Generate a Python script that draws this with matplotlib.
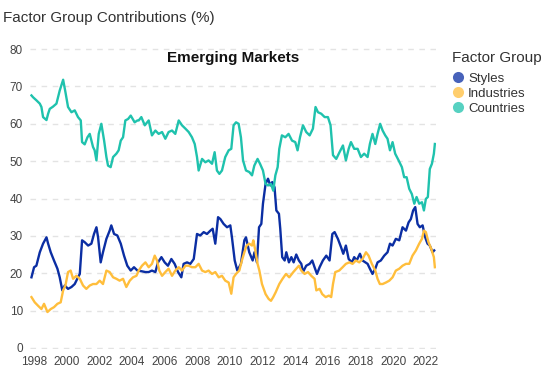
import matplotlib.pyplot as plt
from matplotlib.lines import Line2D

plt.rcParams['font.family'] = ['Liberation Sans', 'DejaVu Sans']

# Styles
styles_x = [1997.84, 1998.0, 1998.14, 1998.35, 1998.55, 1998.76, 1998.86, 1999.02, 1999.22, 1999.43,
            1999.57, 1999.73, 1999.88, 2000.08, 2000.29, 2000.49, 2000.69, 2000.8, 2000.94, 2001.1,
            2001.31, 2001.51, 2001.67, 2001.82, 2001.92, 2002.08, 2002.22, 2002.43, 2002.63, 2002.73,
            2002.9, 2003.1, 2003.31, 2003.51, 2003.71, 2003.92, 2004.12, 2004.33, 2004.61, 2004.82,
            2005.02, 2005.22, 2005.43, 2005.59, 2005.8, 2006.0, 2006.2, 2006.41, 2006.61, 2006.82,
            2007.02, 2007.16, 2007.37, 2007.57, 2007.78, 2007.98, 2008.18, 2008.39, 2008.59, 2008.8,
            2008.94, 2009.1, 2009.27, 2009.41, 2009.61, 2009.82, 2010.02, 2010.12, 2010.29, 2010.45,
            2010.67, 2010.88, 2010.98, 2011.18, 2011.39, 2011.5, 2011.65, 2011.78, 2011.92, 2012.02,
            2012.18, 2012.33, 2012.47, 2012.59, 2012.73, 2012.84, 2013.0, 2013.08, 2013.2, 2013.35,
            2013.45, 2013.61, 2013.76, 2013.9, 2014.06, 2014.22, 2014.37, 2014.47, 2014.67, 2014.88,
            2015.04, 2015.18, 2015.33, 2015.49, 2015.69, 2015.9, 2016.1, 2016.27, 2016.41, 2016.61,
            2016.8, 2016.94, 2017.1, 2017.27, 2017.47, 2017.61, 2017.76, 2017.96, 2018.12, 2018.29,
            2018.43, 2018.57, 2018.73, 2018.9, 2019.04, 2019.24, 2019.45, 2019.65, 2019.8, 2019.96,
            2020.16, 2020.37, 2020.57, 2020.78, 2020.94, 2021.08, 2021.22, 2021.35, 2021.49, 2021.63,
            2021.8, 2021.96, 2022.1, 2022.24, 2022.41, 2022.51]
styles_y = [18.9, 21.6, 22.0, 25.6, 27.9, 29.6, 27.9, 25.6, 23.4, 21.2,
            18.9, 15.4, 16.7, 15.8, 16.3, 17.1, 18.9, 19.8, 28.8, 28.3,
            27.4, 27.9, 30.5, 32.3, 29.6, 22.9, 25.6, 29.2, 31.4, 32.8,
            30.5, 30.1, 27.9, 24.7, 22.0, 20.7, 21.6, 20.7, 20.5, 20.3,
            20.3, 20.7, 20.3, 22.9, 24.3, 22.9, 22.0, 23.8, 22.5, 20.3,
            18.9, 22.5, 22.9, 22.5, 23.8, 30.5, 30.1, 31.0, 30.5, 31.4,
            31.9, 27.9, 35.0, 34.5, 33.2, 32.3, 32.8, 29.6, 23.4, 20.7,
            22.5, 28.8, 29.6, 25.6, 23.4, 25.6, 22.9, 32.3, 33.2, 38.6,
            43.9, 45.3, 43.5, 44.4, 43.0, 36.8, 35.9, 31.9, 24.3, 23.4,
            25.6, 22.9, 24.3, 22.9, 25.0, 23.4, 22.5, 20.3, 22.0, 22.5,
            23.4, 21.6, 19.8, 21.6, 23.4, 24.7, 23.4, 30.5, 31.0, 29.2,
            27.0, 25.2, 27.4, 23.8, 22.9, 24.3, 23.4, 25.2, 23.4, 22.9,
            22.5, 21.2, 19.8, 21.2, 22.9, 23.4, 24.7, 25.6, 27.9, 27.4,
            29.2, 28.8, 32.3, 31.4, 33.6, 34.5, 36.8, 37.7, 33.2, 32.3,
            32.8, 29.6, 27.9, 27.4, 25.6, 26.1]

# Industries
industries_x = [1997.84, 1998.04, 1998.24, 1998.45, 1998.61, 1998.82, 1999.02, 1999.22, 1999.43, 1999.63,
                1999.78, 1999.92, 2000.08, 2000.24, 2000.39, 2000.59, 2000.8, 2001.0, 2001.2, 2001.41,
                2001.61, 2001.82, 2002.02, 2002.22, 2002.43, 2002.63, 2002.84, 2003.04, 2003.24, 2003.45,
                2003.65, 2003.86, 2004.06, 2004.27, 2004.41, 2004.61, 2004.82, 2005.02, 2005.22, 2005.39,
                2005.53, 2005.67, 2005.84, 2006.04, 2006.24, 2006.45, 2006.65, 2006.86, 2007.06, 2007.27,
                2007.47, 2007.67, 2007.88, 2008.08, 2008.29, 2008.49, 2008.69, 2008.9, 2009.1, 2009.31,
                2009.51, 2009.71, 2009.92, 2010.08, 2010.22, 2010.37, 2010.57, 2010.73, 2010.88, 2011.02,
                2011.18, 2011.35, 2011.43, 2011.55, 2011.69, 2011.8, 2011.96, 2012.18, 2012.37, 2012.51,
                2012.65, 2012.8, 2013.02, 2013.22, 2013.43, 2013.63, 2013.88, 2014.06, 2014.22, 2014.37,
                2014.57, 2014.78, 2014.98, 2015.18, 2015.29, 2015.49, 2015.65, 2015.86, 2016.06, 2016.2,
                2016.31, 2016.45, 2016.69, 2016.9, 2017.1, 2017.31, 2017.51, 2017.71, 2017.92, 2018.12,
                2018.33, 2018.49, 2018.69, 2018.9, 2019.04, 2019.18, 2019.35, 2019.55, 2019.76, 2019.96,
                2020.16, 2020.37, 2020.57, 2020.78, 2020.98, 2021.18, 2021.39, 2021.59, 2021.76, 2021.88,
                2022.0, 2022.16, 2022.33, 2022.49, 2022.55]
industries_y = [13.6, 12.2, 11.3, 10.4, 11.8, 9.6, 10.4, 10.9, 11.8, 12.2,
                15.4, 16.7, 20.3, 20.7, 18.5, 19.3, 18.5, 16.7, 15.8, 16.7,
                17.1, 17.1, 18.0, 17.1, 20.7, 20.3, 18.9, 18.5, 18.0, 18.5,
                16.3, 18.0, 18.9, 19.3, 20.7, 22.0, 22.9, 21.6, 22.5, 24.7,
                23.4, 20.7, 19.3, 20.3, 21.2, 19.3, 20.7, 21.6, 20.7, 22.0,
                22.0, 21.6, 21.6, 22.5, 20.7, 20.3, 20.7, 19.8, 20.3, 18.9,
                19.3, 18.0, 17.5, 14.5, 18.9, 19.8, 20.7, 23.4, 25.6, 27.4,
                27.9, 27.4, 28.8, 26.1, 22.5, 20.7, 17.1, 14.4, 13.1, 12.6,
                13.6, 14.9, 17.1, 18.5, 19.8, 18.9, 20.3, 21.2, 22.0, 20.7,
                19.8, 20.3, 19.3, 18.5, 15.4, 15.8, 14.4, 13.6, 14.0, 13.6,
                17.1, 20.3, 20.7, 21.6, 22.5, 22.9, 22.5, 23.4, 22.9, 23.8,
                25.6, 24.7, 22.5, 20.7, 18.5, 17.1, 17.1, 17.5, 18.0, 18.9,
                20.7, 21.2, 22.0, 22.5, 22.5, 24.7, 26.1, 27.9, 29.2, 31.4,
                31.0, 28.3, 26.5, 24.3, 21.6]

# Countries
countries_x = [1997.84, 1997.94, 1998.14, 1998.35, 1998.45, 1998.55, 1998.76, 1998.86, 1998.96, 1999.16,
               1999.37, 1999.57, 1999.78, 1999.92, 2000.08, 2000.29, 2000.49, 2000.69, 2000.86, 2000.94,
               2001.1, 2001.27, 2001.41, 2001.61, 2001.71, 2001.82, 2001.96, 2002.12, 2002.29, 2002.43,
               2002.53, 2002.69, 2002.84, 2003.04, 2003.18, 2003.31, 2003.45, 2003.59, 2003.76, 2003.92,
               2004.16, 2004.33, 2004.41, 2004.57, 2004.78, 2005.02, 2005.22, 2005.43, 2005.63, 2005.84,
               2006.04, 2006.24, 2006.45, 2006.65, 2006.86, 2007.06, 2007.27, 2007.47, 2007.67, 2007.84,
               2007.98, 2008.08, 2008.29, 2008.49, 2008.69, 2008.9, 2009.06, 2009.2, 2009.35, 2009.51,
               2009.71, 2009.92, 2010.08, 2010.22, 2010.37, 2010.53, 2010.67, 2010.8, 2010.98, 2011.18,
               2011.35, 2011.49, 2011.69, 2011.84, 2012.02, 2012.18, 2012.33, 2012.51, 2012.65, 2012.78,
               2012.92, 2013.02, 2013.18, 2013.39, 2013.59, 2013.8, 2014.0, 2014.14, 2014.29, 2014.47,
               2014.67, 2014.88, 2015.08, 2015.24, 2015.39, 2015.59, 2015.8, 2016.0, 2016.16, 2016.31,
               2016.51, 2016.71, 2016.92, 2017.1, 2017.27, 2017.41, 2017.61, 2017.82, 2018.02, 2018.22,
               2018.43, 2018.57, 2018.73, 2018.9, 2019.04, 2019.2, 2019.35, 2019.51, 2019.65, 2019.8,
               2019.96, 2020.12, 2020.33, 2020.53, 2020.67, 2020.82, 2020.98, 2021.14, 2021.29, 2021.43,
               2021.59, 2021.76, 2021.88, 2022.0, 2022.12, 2022.24, 2022.37, 2022.49, 2022.55]
countries_y = [67.6, 67.1, 66.3, 65.4, 64.5, 61.8, 61.0, 62.7, 64.0, 64.6,
               65.4, 68.9, 71.8, 68.5, 64.5, 63.1, 63.6, 61.8, 60.9, 55.1,
               54.5, 56.4, 57.3, 53.8, 52.9, 50.2, 57.3, 60.0, 55.5, 51.1,
               48.8, 48.4, 51.1, 52.0, 52.9, 55.5, 56.4, 60.9, 61.3, 62.2,
               60.4, 60.9, 60.9, 61.8, 59.6, 60.9, 56.9, 58.2, 57.3, 57.8,
               56.0, 57.8, 58.2, 57.3, 60.9, 59.6, 58.7, 57.8, 56.4, 54.6,
               51.1, 47.5, 50.6, 49.7, 50.2, 49.3, 52.4, 47.5, 46.6, 47.5,
               51.1, 52.9, 53.3, 59.6, 60.4, 60.0, 56.4, 50.2, 47.5, 47.1,
               46.2, 48.8, 50.6, 49.3, 47.5, 43.9, 43.5, 43.9, 42.1, 46.2,
               48.4, 53.3, 56.9, 56.4, 57.3, 55.5, 55.1, 52.9, 56.4, 59.6,
               57.8, 56.9, 58.7, 64.5, 63.1, 62.7, 61.8, 61.8, 59.6, 51.6,
               50.6, 52.4, 54.2, 50.2, 53.3, 55.1, 53.3, 53.3, 51.1, 52.0,
               51.1, 54.6, 57.3, 54.6, 57.3, 60.0, 58.2, 56.9, 56.0, 52.9,
               55.1, 52.0, 50.2, 48.4, 45.7, 45.7, 42.6, 41.2, 38.6, 40.4,
               38.6, 39.0, 36.8, 39.9, 40.4, 47.9, 49.3, 52.0, 54.6]

group_names = ['Styles', 'Industries', 'Countries']
line_colors = ['#0b2ea3', '#ffbe3c', '#1fc2ad']
year_ticks = list(range(1998, 2023, 2))
y_ticks = list(range(0, 81, 10))

fig = plt.figure(figsize=(5.48, 3.69), dpi=100)
ax = fig.add_axes([30 / 548, 1 - 349 / 369, 406 / 548, 301 / 369])

ax.plot(styles_x, styles_y, color=line_colors[0], lw=1.7)
ax.plot(industries_x, industries_y, color=line_colors[1], lw=1.7)
ax.plot(countries_x, countries_y, color=line_colors[2], lw=1.7)

ax.set_xlim(1997.75, 2022.62)
ax.set_ylim(-0.3, 80.3)
ax.set_xticks(year_ticks)
ax.set_yticks(y_ticks)
ax.tick_params(length=0, labelsize=8.5, colors='#444444', pad=5)
ax.grid(axis='y', color='#e3e3e3', lw=1, linestyle=(0, (4, 4)))
ax.set_axisbelow(True)
for s in ax.spines.values():
    s.set_visible(False)

ax.text(0.5, 0.99, 'Emerging Markets', transform=ax.transAxes, ha='center', va='top',
        fontsize=11, fontweight='bold', color='#111111')

fig.text(3 / 548, 1 - 18 / 369, 'Factor Group Contributions (%)', ha='left', va='center',
         fontsize=11, color='#333333')

# legend: title as separate text, items below
fig.text(452 / 548, 1 - 58 / 369, 'Factor Group', ha='left', va='center',
         fontsize=11, color='#333333')
handles = [Line2D([], [], marker='o', linestyle='', markersize=8, markeredgewidth=0,
                  color=c, alpha=0.75) for c in line_colors]
leg = fig.legend(handles, group_names, loc='upper left', bbox_to_anchor=(443 / 548, 1 - 66 / 369),
                 frameon=False, fontsize=9.5, handletextpad=0.2, labelspacing=0.22,
                 borderpad=0, handlelength=1.2)
for t in leg.get_texts():
    t.set_color('#333333')

fig.savefig('out.png', dpi=100)
